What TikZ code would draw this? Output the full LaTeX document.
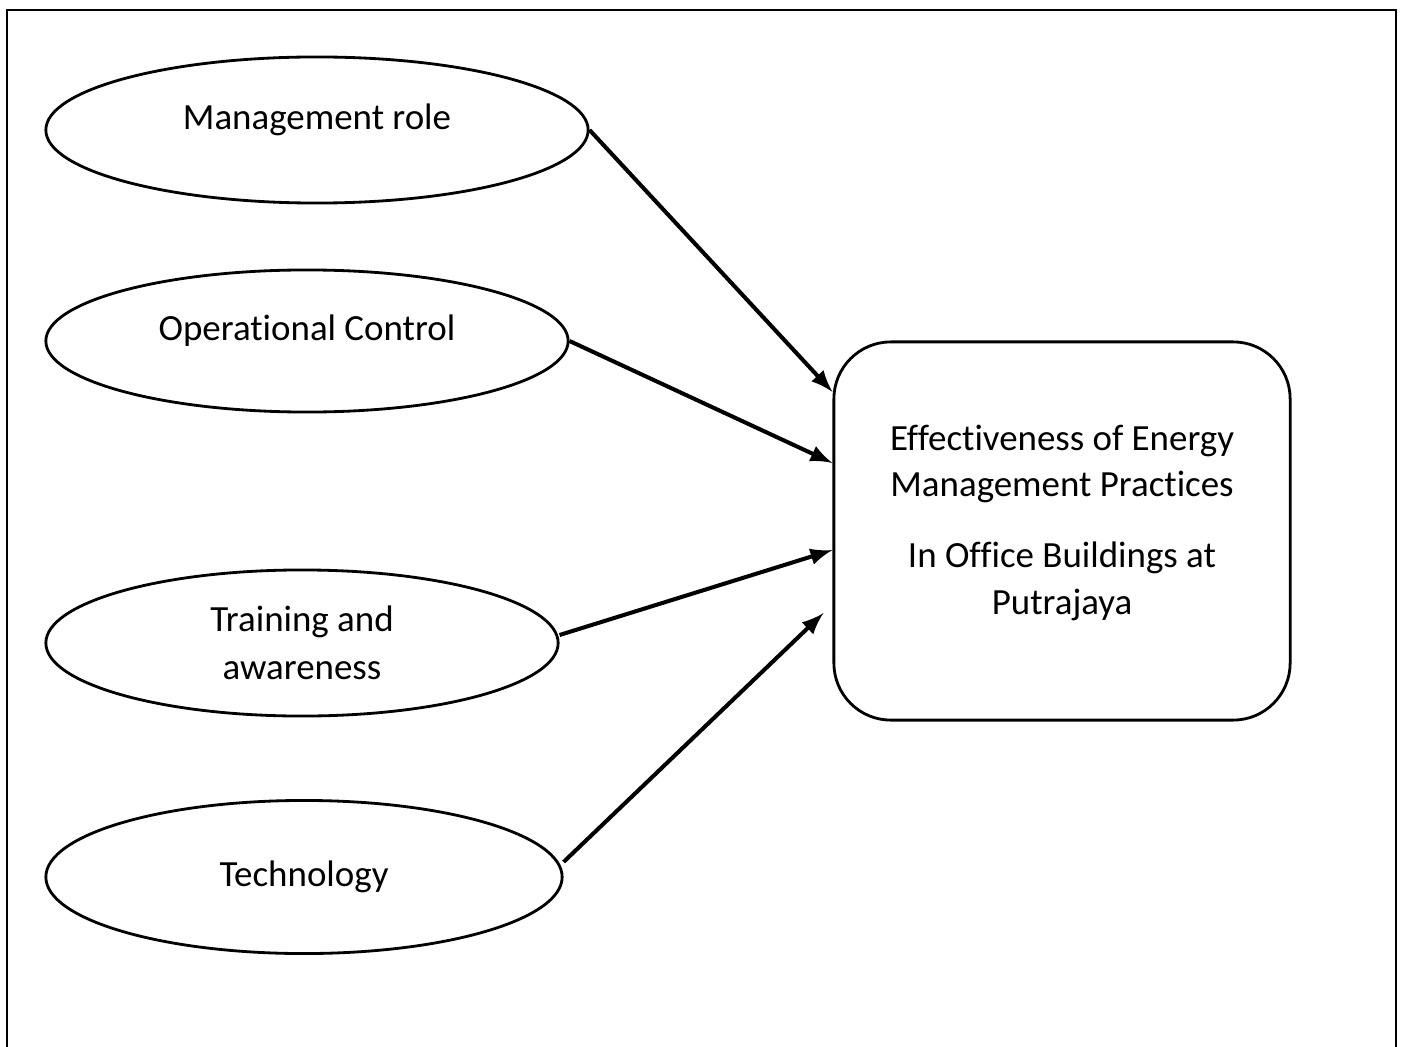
\documentclass[tikz,border=0pt]{standalone}
\usepackage{fontspec}
\setmainfont[Ligatures=NoCommon]{Carlito}
\usepackage{tikz}
\usetikzlibrary{positioning}
\usetikzlibrary{shapes.geometric, arrows}
\tikzstyle{arrow} = [line width=1.15pt,->,>=latex]
\tikzstyle{factor} = [draw,ellipse,line width=0.8pt,inner sep=0pt,align=center]

\begin{document}
\begin{tikzpicture}[x=0.01cm,y=-0.01cm,font=\fontsize{10.5}{13.2}\selectfont]
				\useasboundingbox (0,0) rectangle (1404,1046);
				\draw[line width=0.8pt] (7,10) rectangle (1396,1100);

				%Nodes
				\node [factor,text depth=0.26cm,minimum width=5.42cm,minimum height=1.46cm] (mgmt) at (317,130) {Management role};
				\node [factor,text depth=0.26cm,minimum width=5.22cm,minimum height=1.42cm] (ops) at (307,341) {Operational Control};
				\node [factor,minimum width=5.12cm,minimum height=1.46cm] (train) at (302,643) {Training and\\[0.4pt] awareness};
				\node [factor,minimum width=5.16cm,minimum height=1.53cm] (tech) at (304,877) {Technology};

				\node (rect) [draw,line width=0.8pt,rounded corners=0.57cm,minimum width=4.56cm,minimum height=3.78cm,align=center,text depth=0.23cm] (eff) at (1062,531)
					{Effectiveness of Energy\\Management Practices\\[7pt]In Office Buildings at\\Putrajaya};

				%Lines
				\draw [arrow] (mgmt.east) -- ([yshift=1.39cm]eff.west);
				\draw [arrow] (ops.east) -- ([yshift=0.68cm]eff.west);
				\draw [arrow] ([yshift=0.08cm]train.east) -- ([yshift=-0.19cm]eff.west);
				\draw [arrow] ([yshift=0.15cm]tech.east) -- ([xshift=-0.09cm,yshift=-0.82cm]eff.west);

			\end{tikzpicture}
\end{document}
